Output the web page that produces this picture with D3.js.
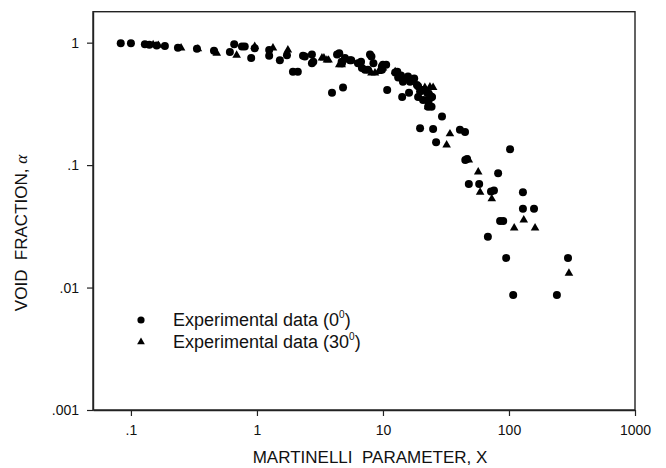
<!DOCTYPE html>
<html>
<head>
<meta charset="utf-8">
<script src="https://cdn.jsdelivr.net/npm/d3@7"></script>
<style>
  body { margin: 0; background: #fff; }
  svg { display: block; font-family: "Liberation Sans", Arial, sans-serif; }
</style>
</head>
<body>
<script>
// experimental data, 0 degrees (circles)
var data0X = [0.083, 0.1, 0.129, 0.14, 0.16, 0.186, 0.236, 0.334, 0.456, 0.61, 0.66, 0.76, 0.80, 0.90, 0.96,
  1.25, 1.25, 1.52, 1.73, 1.93, 2.11, 2.32, 2.4, 2.73, 2.73, 2.8, 4.32, 4.5, 4.73, 4.7, 4.99, 5.47, 5.6, 6.33, 6.7,
  6.81, 7.2, 7.89, 8.1, 8.4, 7.6, 3.94, 4.82, 9.8, 10.6, 9.82, 10.0, 10.8, 12.5, 13.0, 13.2, 13.9, 14.2, 14.4,
  14.6, 15.8, 16.1, 16.4, 17.3, 17.7, 18.6, 19.0, 19.0, 19.7, 20.6, 20.8, 22.3, 22.4, 22.8, 23, 24.3, 24.3, 24.5,
  29.4, 19.7, 25.0, 26.4, 40.8, 44.8, 46.5, 45, 102, 82, 48, 58, 72, 76, 129, 129, 158, 85, 90, 68,
  95, 294, 108, 240];
var data0Y = [0.99, 0.99, 0.97, 0.96, 0.95, 0.94, 0.91, 0.89, 0.86, 0.84, 0.97, 0.93, 0.93, 0.75, 0.90,
  0.87, 0.78, 0.72, 0.79, 0.58, 0.58, 0.78, 0.77, 0.80, 0.68, 0.70, 0.80, 0.82, 0.68, 0.70, 0.75, 0.72, 0.72, 0.68, 0.70,
  0.62, 0.60, 0.80, 0.77, 0.68, 0.60, 0.39, 0.43, 0.64, 0.66, 0.60, 0.66, 0.41, 0.57, 0.58, 0.52, 0.54, 0.36, 0.48,
  0.50, 0.53, 0.39, 0.48, 0.50, 0.51, 0.45, 0.36, 0.44, 0.40, 0.41, 0.34, 0.34, 0.39, 0.30, 0.33, 0.36, 0.30, 0.36,
  0.25, 0.20, 0.197, 0.154, 0.194, 0.186, 0.112, 0.11, 0.135, 0.086, 0.070, 0.070, 0.061, 0.062, 0.060, 0.044, 0.044, 0.035, 0.035, 0.026,
  0.0174, 0.0174, 0.0087, 0.0087];

// experimental data, 30 degrees (triangles)
var data30X = [0.15, 0.165, 0.25, 0.34, 0.48, 0.69, 0.96, 1.34, 1.76, 3.28, 3.4, 3.59, 3.7, 4.5, 4.7, 5.0, 8.1,
  8.64, 9.2, 10, 12.5, 13.3, 15, 21.5, 23.6, 24, 25, 22.8, 34, 32, 48, 57, 59, 73, 131, 110, 161, 299];
var data30Y = [0.96, 0.95, 0.905, 0.89, 0.82, 0.79, 0.93, 0.905, 0.87, 0.75, 0.75, 0.72, 0.72, 0.66, 0.66, 0.72, 0.565,
  0.565, 0.58, 0.62, 0.58, 0.565, 0.50, 0.43, 0.435, 0.38, 0.43, 0.30, 0.18, 0.146, 0.11, 0.088, 0.060, 0.053, 0.0356, 0.0306, 0.0306, 0.0131];

var xTicks = [0.1, 1, 10, 100, 1000];
var xTickLabels = [".1", "1", "10", "100", "1000"];
var yTicks = [0.001, 0.01, 0.1, 1];
var yTickLabels = [".001", ".01", ".1", "1"];

function drawChart() {
  var W = 666, H = 468;
  var pLeft = 93, pRight = 635, pTop = 11.7, pBottom = 410;

  var svg = d3.select("body").append("svg")
    .attr("width", W)
    .attr("height", H);

  var x = d3.scaleLog().domain([0.05, 1000]).range([pLeft, pRight]);
  var y = d3.scaleLog().domain([0.001, 1.79]).range([pBottom, pTop]);

  //frame
  svg.append("rect")
    .attr("x", pLeft).attr("y", pTop)
    .attr("width", pRight - pLeft).attr("height", pBottom - pTop)
    .attr("fill", "none")
    .attr("stroke", "#222")
    .attr("stroke-width", 1.4);

  // axes
  var xAxis = d3.axisBottom(x)
    .tickValues(xTicks)
    .tickFormat(function(d, i) { return xTickLabels[i]; })
    .tickSizeInner(6).tickSizeOuter(0).tickPadding(9);
  var gx = svg.append("g")
    .attr("transform", "translate(0," + pBottom + ")")
    .call(xAxis);

  var yAxis = d3.axisLeft(y)
    .tickValues(yTicks)
    .tickFormat(function(d, i) { return yTickLabels[i]; })
    .tickSizeInner(6).tickSizeOuter(0).tickPadding(8);
  var gy = svg.append("g")
    .attr("transform", "translate(" + pLeft + ",0)")
    .call(yAxis);

  [gx, gy].forEach(function(g) {
    g.select(".domain").attr("stroke", "#222").attr("stroke-width", 1.4);
    g.selectAll(".tick line").attr("stroke", "#222").attr("stroke-width", 1.2);
    g.selectAll(".tick text")
      .attr("fill", "#111")
      .style("font-family", "Liberation Sans, Arial, sans-serif")
      .style("font-size", "14px");
  });

  // points
  var pts0 = data0X.map(function(v, i) { return { x: v, y: data0Y[i] }; });
  var pts30 = data30X.map(function(v, i) { return { x: v, y: data30Y[i] }; });

  var tri = d3.symbol().type(d3.symbolTriangle).size(32);

  svg.append("g").selectAll("circle")
    .data(pts0)
    .enter().append("circle")
    .attr("cx", function(d) { return x(d.x); })
    .attr("cy", function(d) { return y(d.y); })
    .attr("r", 4)
    .attr("fill", "#000");

  svg.append("g").selectAll("path")
    .data(pts30)
    .enter().append("path")
    .attr("d", tri)
    .attr("transform", function(d) { return "translate(" + x(d.x) + "," + y(d.y) + ")"; })
    .attr("fill", "#000");

  // legend
  var legend = svg.append("g");
  legend.append("circle")
    .attr("cx", 141).attr("cy", 320).attr("r", 3.6).attr("fill", "#000");
  legend.append("path")
    .attr("d", d3.symbol().type(d3.symbolTriangle).size(26)())
    .attr("transform", "translate(141,342)")
    .attr("fill", "#000");

  var legendLabels = ["0", "30"];
  legendLabels.forEach(function(l, i) {
    var t = legend.append("text")
      .attr("x", 173).attr("y", 326 + i * 22)
      .style("font-size", "18px")
      .attr("fill", "#111");
    t.append("tspan").text("Experimental data (" + l);
    t.append("tspan").attr("dy", -8).style("font-size", "10px").text("0");
    t.append("tspan").attr("dy", 8).text(")");
  });

  // axis titles
  svg.append("text")
    .attr("x", 370).attr("y", 463)
    .attr("text-anchor", "middle")
    .style("font-size", "17px")
    .style("white-space", "pre")
    .attr("fill", "#111")
    .text("MARTINELLI  PARAMETER, X");

  var yt = svg.append("text")
    .attr("transform", "translate(27,233) rotate(-90)")
    .attr("text-anchor", "middle")
    .style("font-size", "17px")
    .style("white-space", "pre")
    .attr("fill", "#111");
  yt.append("tspan").text("VOID  FRACTION, ");
  yt.append("tspan").style("font-family", "Liberation Serif, serif").style("font-style", "italic").text("α");
}

window.addEventListener("DOMContentLoaded", function() {
  drawChart();
}, false);
</script>
</body>
</html>
